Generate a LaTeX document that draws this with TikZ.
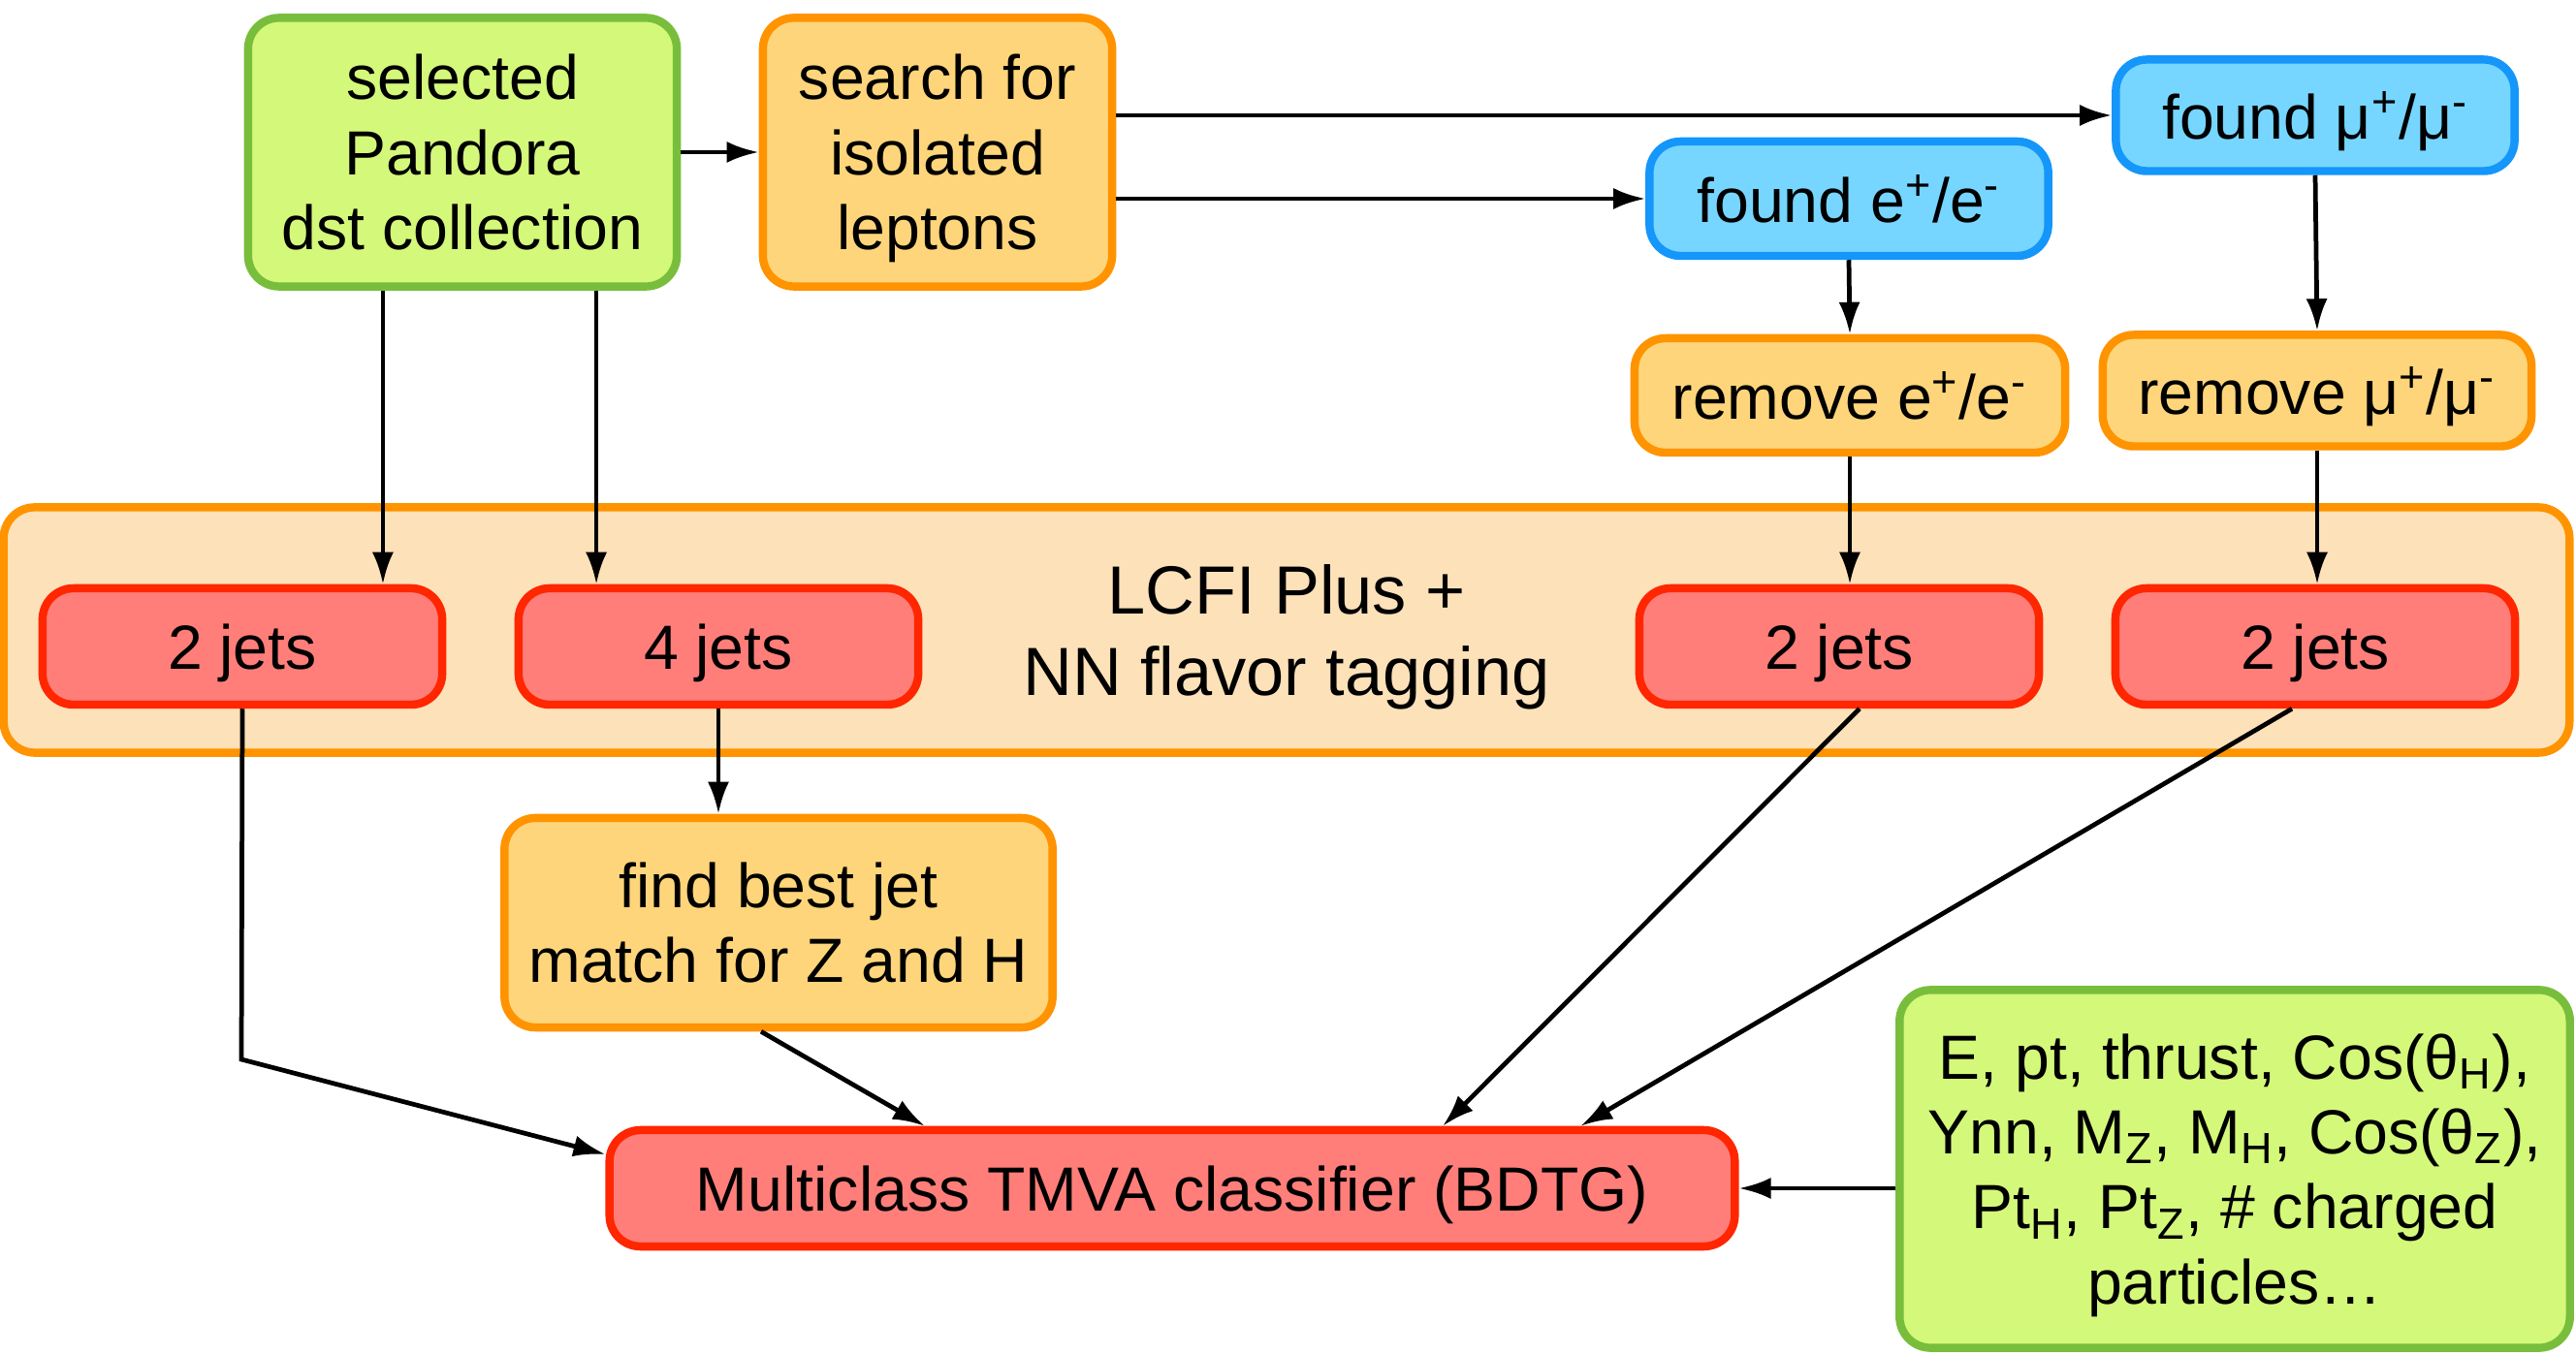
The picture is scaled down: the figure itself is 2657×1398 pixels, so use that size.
\documentclass[tikz,border=0pt]{standalone}
\usepackage{fontspec}
\setmainfont{Liberation Sans}
\usepackage{tikz}
\usetikzlibrary{arrows.meta, positioning}

\definecolor{limefill}{RGB}{212,248,122}
\definecolor{limeline}{RGB}{120,190,60}
\definecolor{amberfill}{RGB}{254,213,122}
\definecolor{amberline}{RGB}{255,147,0}
\definecolor{skyfill}{RGB}{118,214,255}
\definecolor{skyline}{RGB}{20,150,250}
\definecolor{salmonfill}{RGB}{255,126,121}
\definecolor{salmonline}{RGB}{255,38,0}
\definecolor{peachfill}{RGB}{253,225,185}

\tikzset{
	box/.style={draw, rounded corners=0.32cm, line width=2.4pt, align=center,
		inner sep=0pt, text depth=0pt, font=\fontsize{18.3}{22}\selectfont},
	greenbox/.style={box, fill=limefill, draw=limeline},
	orangebox/.style={box, fill=amberfill, draw=amberline},
	bluebox/.style={box, fill=skyfill, draw=skyline},
	redbox/.style={box, fill=salmonfill, draw=salmonline},
	flow/.style={-{Latex[length=0.33cm,width=0.22cm]}, line width=1.35pt}
}

\begin{document}
\begin{tikzpicture}[x=0.01cm, y=-0.01cm]
				\useasboundingbox (0,0) rectangle (2657,1398);

				% Tagging stage
				\node[box, fill=peachfill, draw=amberline, minimum width=26.45cm, minimum height=2.53cm] (lcfi) at (1327,650) {};
				\node[font=\fontsize{20}{24}\selectfont, align=center, text depth=0pt] (lcfitext) at (1327,650) {LCFI Plus +\\NN flavor tagging};

				% Input and lepton search
				\node[greenbox, minimum width=4.42cm, minimum height=2.77cm] (sel) at (477,157) {selected\\Pandora\\dst collection};
				\node[orangebox, minimum width=3.6cm, minimum height=2.77cm] (search) at (967,157) {search for\\isolated\\leptons};
				\node[bluebox, minimum width=4.11cm, minimum height=1.15cm] (foundmu) at (2388,119) {found μ\textsuperscript{+}/μ\textsuperscript{-}};
				\node[bluebox, minimum width=4.11cm, minimum height=1.18cm] (founde) at (1907,205) {found e\textsuperscript{+}/e\textsuperscript{-}};
				\node[orangebox, minimum width=4.44cm, minimum height=1.18cm] (reme) at (1908,408) {remove e\textsuperscript{+}/e\textsuperscript{-}};
				\node[orangebox, minimum width=4.42cm, minimum height=1.15cm] (remmu) at (2390,403) {remove μ\textsuperscript{+}/μ\textsuperscript{-}};

				% Jets
				\node[redbox, minimum width=4.12cm, minimum height=1.2cm] (jetsA) at (250,667) {2 jets};
				\node[redbox, minimum width=4.12cm, minimum height=1.2cm] (jetsB) at (741,667) {4 jets};
				\node[redbox, minimum width=4.12cm, minimum height=1.2cm] (jetsC) at (1897,667) {2 jets};
				\node[redbox, minimum width=4.12cm, minimum height=1.2cm] (jetsD) at (2388,667) {2 jets};

				% Matching and classifier
				\node[orangebox, minimum width=5.65cm, minimum height=2.16cm] (match) at (803,952) {find best jet\\match for Z and H};
				\node[redbox, minimum width=11.6cm, minimum height=1.2cm] (tmva) at (1209,1226) {Multiclass TMVA classifier (BDTG)};
				\node[greenbox, minimum width=6.91cm, minimum height=3.69cm] (vars) at (2305,1206)
					{E, pt, thrust, Cos(θ\textsubscript{H}),\\Ynn, M\textsubscript{Z}, M\textsubscript{H}, Cos(θ\textsubscript{Z}),\\Pt\textsubscript{H}, Pt\textsubscript{Z}, \# charged\\particles…};

				% Arrows
				\draw[flow] (sel.east) -- (search.west);
				\draw[flow] (search.east |- foundmu.west) -- (foundmu.west);
				\draw[flow] (search.east |- founde.west) -- (founde.west);
				\draw[flow] (founde.south) -- (reme.north);
				\draw[flow] (foundmu.south) -- (remmu.north);
				\draw[flow] ([xshift=-0.82cm]sel.south) -- ([xshift=-0.82cm]sel.south |- jetsA.north);
				\draw[flow] ([xshift=1.38cm]sel.south) -- ([xshift=1.38cm]sel.south |- jetsB.north);
				\draw[flow] (reme.south) -- (reme.south |- jetsC.north);
				\draw[flow] (remmu.south) -- (remmu.south |- jetsD.north);
				\draw[flow] (jetsB.south) -- (jetsB.south |- match.north);

				\coordinate (bend) at (249,1093);
				\draw[flow] (jetsA.south) -- (bend) -- ([yshift=0.35cm]tmva.west);
				\draw[flow] ([xshift=-0.18cm]match.south) -- ([xshift=-2.55cm]tmva.north);
				\draw[flow] ([xshift=0.21cm]jetsC.south) -- ([xshift=2.79cm]tmva.north);
				\draw[flow] ([xshift=-0.24cm]jetsD.south) -- ([xshift=4.21cm]tmva.north);
				\draw[flow] (vars.west |- tmva.east) -- (tmva.east);
\end{tikzpicture}
\end{document}
